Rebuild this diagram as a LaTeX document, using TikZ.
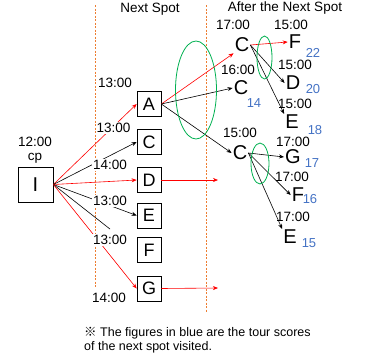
\documentclass[tikz,border=0pt]{standalone}
\usepackage{fontspec}
\setmainfont{Liberation Sans}
\newfontfamily\jpfont{Noto Sans CJK JP}
\usetikzlibrary{arrows.meta,calc}
\definecolor{spotred}{HTML}{FF0000}
\definecolor{ringgreen}{HTML}{00B050}
\definecolor{sepor}{HTML}{ED7D31}
\definecolor{scoreblue}{HTML}{4472C4}
\tikzset{
  spotbox/.style={draw, line width=0.7pt, minimum width=24pt, minimum height=25pt, inner sep=0pt, font=\fontsize{18}{18}\selectfont},
  spotletter/.style={inner sep=1pt, font=\fontsize{20}{20}\selectfont},
  timelabel/.style={inner sep=1pt, font=\fontsize{13.5}{14}\selectfont},
  edgetime/.style={timelabel, fill=white},
  score/.style={text=scoreblue, inner sep=0pt, font=\fontsize{13}{13}\selectfont},
  redarrow/.style={spotred, line width=0.6pt, -{Stealth[length=5pt,width=4pt]}},
  blackarrow/.style={black, line width=0.6pt, -{Stealth[length=5pt,width=4pt]}},
  sepline/.style={sepor, line width=0.8pt, dash pattern=on 2pt off 1.5pt},
  groupring/.style={ringgreen, line width=0.8pt},
}
\begin{document}
\begin{tikzpicture}[x=1pt,y=-1pt]
   \useasboundingbox (0,0) rectangle (365,360);
   % column separators
   \coordinate (s1top) at (95,5);
   \coordinate (s1bot) at (95,288);
   \coordinate (s2top) at (206,5);
   \coordinate (s2bot) at (206,312);
   \draw[sepline] (s1top) -- (s1bot);
   \draw[sepline] (s2top) -- (s2bot);
   % headers
   \node[timelabel] (hNext) at (150,9) {Next Spot};
   \node[timelabel] (hAfter) at (285,8) {After the Next Spot};
   % start spot
   \node[spotbox, minimum size=35pt, font=\fontsize{20}{20}\selectfont] (I) at (35.5,184.5) {I};
   \node[timelabel] (tStart) at (35,142) {12:00};
   \node[timelabel] (cp) at (35,158) {cp};
   % next spots
   \node[spotbox] (A) at (149,104) {A};
   \node[spotbox] (C) at (149,142) {C};
   \node[spotbox] (D) at (149,180) {D};
   \node[spotbox] (E) at (149,215.5) {E};
   \node[spotbox] (F) at (149,250) {F};
   \node[spotbox] (G) at (149,288.5) {G};
   \node[edgetime] (tA) at (115,83) {13:00};
   % spots after the next spot
   \node[timelabel] (tC1) at (233,25) {17:00};
   \node[spotletter] (C1) at (242,45) {C};
   \node[timelabel] (tC2) at (238,70) {16:00};
   \node[spotletter] (C2) at (241,88) {C};
   \node[score] (sC2) at (254,103) {14};
   \node[timelabel] (tC3) at (240,133) {15:00};
   \node[spotletter] (C3) at (240,153) {C};
   \node[timelabel] (tF1) at (291,25) {15:00};
   \node[spotletter] (F1) at (295,42) {F};
   \node[score] (sF1) at (313,53) {22};
   \node[timelabel] (tD1) at (295,65) {15:00};
   \node[spotletter] (D1) at (293,83) {D};
   \node[score] (sD1) at (313,89) {20};
   \node[timelabel] (tE1) at (295,104) {15:00};
   \node[spotletter] (E1) at (292,122) {E};
   \node[score] (sE1) at (315,130) {18};
   \node[timelabel] (tG1) at (293,142) {17:00};
   \node[spotletter] (G1) at (293,157) {G};
   \node[score] (sG1) at (312,163) {17};
   \node[timelabel] (tF2) at (292,177) {17:00};
   \node[spotletter] (F2) at (298,195) {F};
   \node[score] (sF2) at (310,199) {16};
   \node[timelabel] (tE2) at (293,217) {17:00};
   \node[spotletter] (E2) at (290,237) {E};
   \node[score] (sE2) at (309,243) {15};
   % from I
   \draw[redarrow] (I.east) -- (A.west);
   \draw[blackarrow] (I.east) -- (C.west);
   \draw[redarrow] (I.east) -- (D.west);
   \draw[blackarrow] (I.east) -- (E.west);
   \draw[black, line width=0.6pt] (I.east) -- ($(I.east)!0.68!(F.west)$);
   \draw[redarrow] (I.east) -- (G.west);
   \coordinate (dEnd) at (218,180);
   \coordinate (gEnd) at (218,288);
   \draw[redarrow] (D.east) -- (dEnd);
   \draw[redarrow] (G.east) -- (gEnd);
   % from A
   \draw[redarrow] (A.east) -- (C1.south west);
   \draw[blackarrow] (A.east) -- (C2.west);
   \draw[blackarrow] (A.east) -- (C3.west);
   % from C
   \draw[redarrow] (C1.east) -- (F1.west);
   \draw[blackarrow] (C1.east) -- (D1.west);
   \draw[blackarrow] (C1.east) -- (E1.north west);
   \draw[blackarrow] (C3.east) -- (G1.west);
   \draw[blackarrow] (C3.east) -- (F2.west);
   \draw[blackarrow] (C3.east) -- (E2.north west);
   % groups
   \draw[groupring] (196,90) ellipse [x radius=20.5pt, y radius=49pt];
   \draw[groupring] (264.5,57.5) ellipse [x radius=7.5pt, y radius=21.5pt];
   \draw[groupring] (260,163.5) ellipse [x radius=9pt, y radius=20.5pt];
   % times on the edges
   \node[edgetime] (t1) at (113.5,128) {13:00};
   \node[edgetime] (t2) at (110,165) {14:00};
   \node[edgetime] (t3) at (110,201) {13:00};
   \node[edgetime] (t4) at (110,240) {13:00};
   \node[edgetime] (t5) at (109,298) {14:00};
   % note
   \node[anchor=west, align=left, inner sep=0pt, font=\fontsize{12.5}{14}\selectfont] (note) at (84,340)
      {{\jpfont ※} The figures in blue are the tour scores\\of the next spot visited.};
\end{tikzpicture}
\end{document}
